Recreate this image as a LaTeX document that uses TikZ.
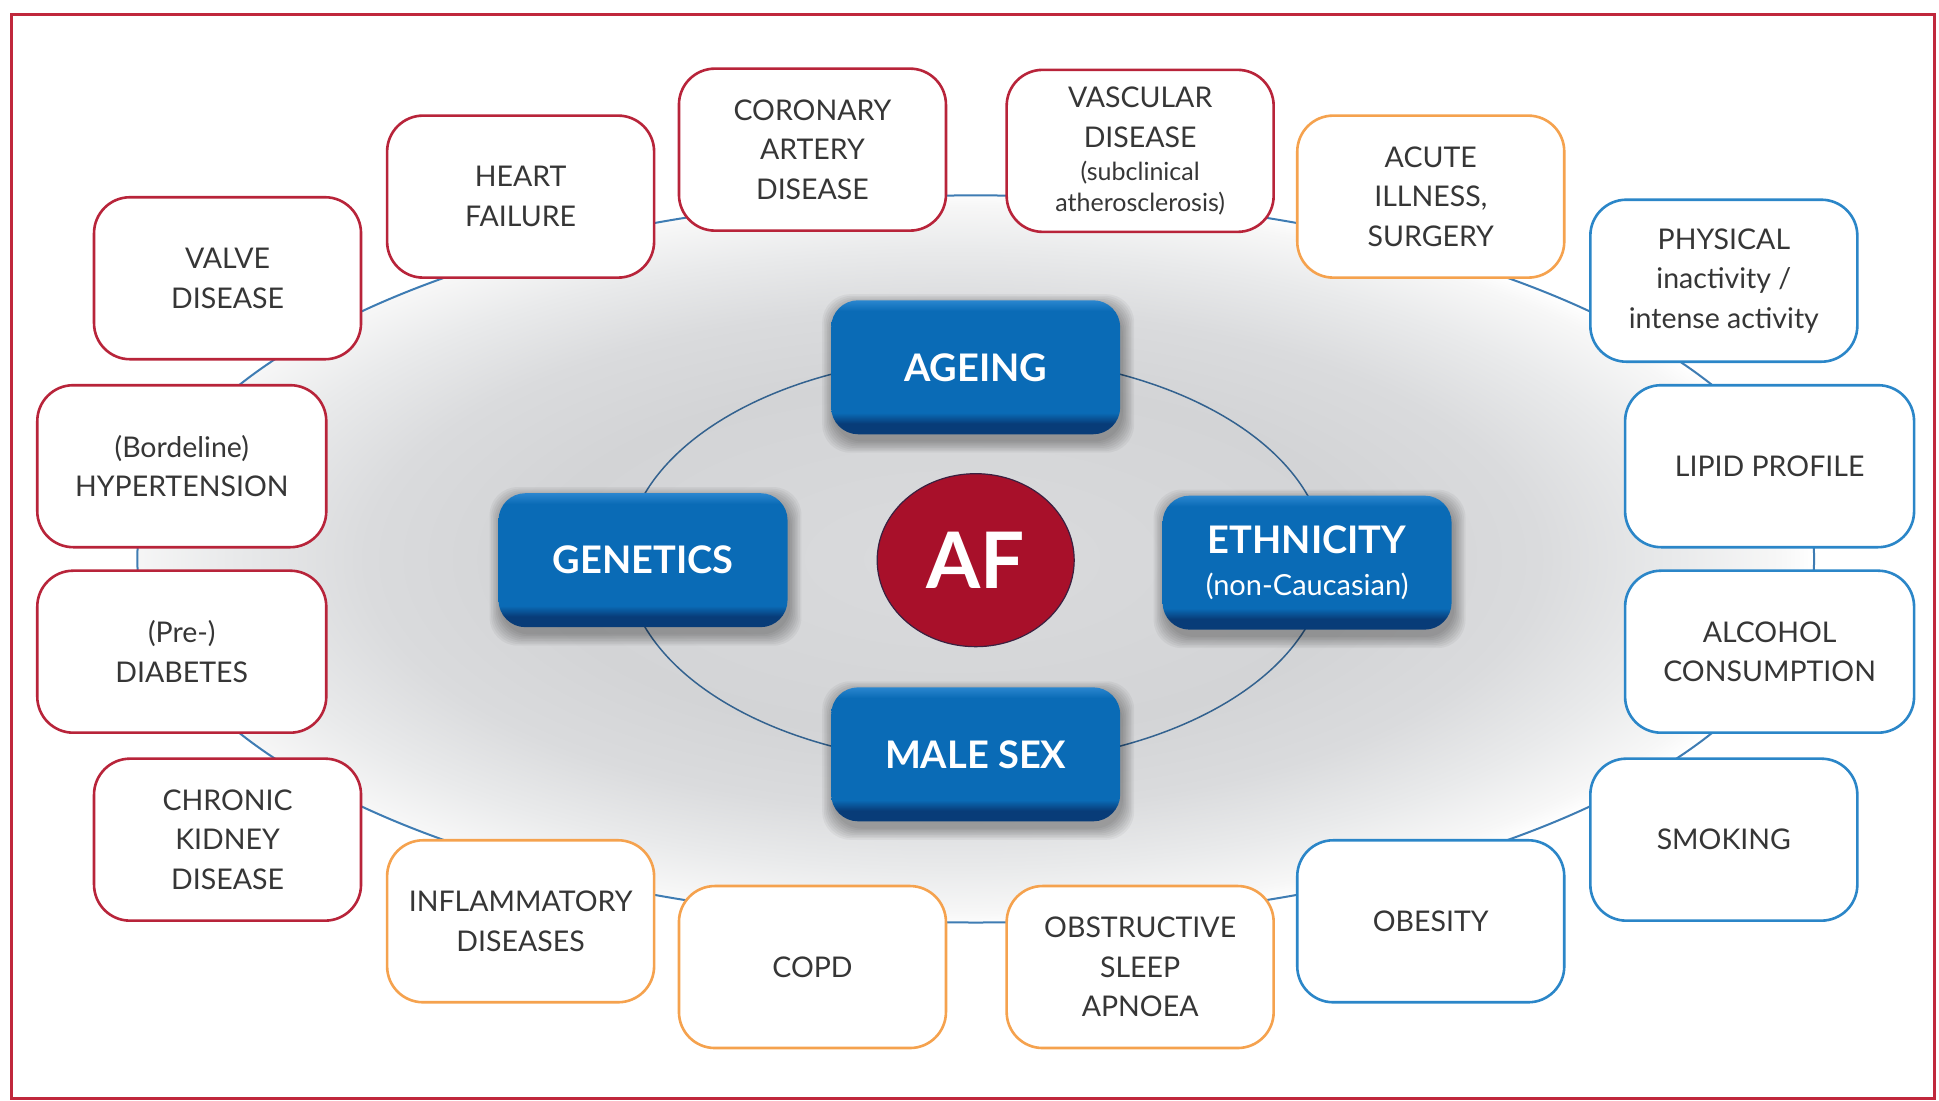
\documentclass[tikz,border=0pt]{standalone}
\usepackage{fontspec}
\setmainfont{Lato}
\usetikzlibrary{shapes.geometric}
\definecolor{bred}{HTML}{B8243A}
\definecolor{bor}{HTML}{F5A24E}
\definecolor{bbl}{HTML}{2B86C8}
\definecolor{ringblue}{HTML}{3E7CB3}
\definecolor{innerblue}{HTML}{33628F}
\definecolor{framered}{HTML}{C0283C}
\definecolor{txtgray}{HTML}{363636}
\definecolor{dblue}{HTML}{083C78}
\definecolor{mblue}{HTML}{0A6BB6}
\definecolor{lblue}{HTML}{2A86CF}
\definecolor{afred}{HTML}{A8102A}
\definecolor{afedge}{HTML}{3A2040}
\definecolor{gA}{HTML}{DADBDD}
\definecolor{gB}{HTML}{D3D4D6}
\definecolor{gC}{HTML}{DADBDD}
\definecolor{gD}{HTML}{E9EAEB}
\definecolor{gE}{HTML}{F7F7F7}
\pgfdeclareradialshading{ringshade}{\pgfpoint{0bp}{0bp}}{color(0bp)=(gA); color(12bp)=(gB); color(17bp)=(gC); color(21bp)=(gD); color(24bp)=(gE); color(25bp)=(white); color(50bp)=(white)}
\pgfdeclareverticalshading{bluebox}{100bp}{color(0bp)=(dblue); color(29bp)=(dblue); color(33bp)=(mblue); color(71bp)=(mblue); color(75bp)=(lblue); color(100bp)=(lblue)}
\newcommand\smalltxt{\fontsize{25}{31}\selectfont}
\newcommand\subtxt{\fontsize{29}{42}\selectfont\mdseries}
\begin{document}
\begin{tikzpicture}[x=1.2366pt,y=-1.2366pt,
  riskbox/.style={draw, line width=2.6pt, fill=white, rounded corners=36pt,
    minimum width=267pt, minimum height=162pt, align=center, text=txtgray,
    font=\fontsize{28.5}{39.5}\selectfont, inner sep=2pt},
  redbox/.style={riskbox, draw=bred},
  orbox/.style={riskbox, draw=bor},
  blbox/.style={riskbox, draw=bbl},
  widebox/.style={minimum width=289pt},
  corebox/.style={shading=bluebox, rounded corners=27pt, minimum width=289pt,
    minimum height=134pt, text=white, align=center,
    font=\fontsize{38}{42}\selectfont\bfseries},
  softshadow/.style={fill=black, opacity=0.045, rounded corners=28pt},
  afnode/.style={ellipse, fill=afred, draw=afedge, line width=1.2pt,
    minimum width=197pt, minimum height=173pt, text=white,
    font=\fontsize{78}{80}\selectfont\bfseries, inner sep=0pt}]
\useasboundingbox (0,0) rectangle (1568,890);
\fill[white] (0,0) rectangle (1568,890);
% shaded field and rings
\begin{scope}
  \clip (789,452) ellipse [x radius=678, y radius=294];
  \shade[shading=ringshade] (770,452) ellipse [x radius=697, y radius=298];
\end{scope}
\draw[ringblue, line width=2pt] (789,452) ellipse [x radius=678, y radius=294];
\draw[innerblue, line width=1.5pt] (789,453) ellipse [x radius=283, y radius=165];
% soft shadows of the core boxes
\foreach \cx/\cy in {789/297,520/453,1057/455,789/610}{
  \foreach \k in {0,...,7}{
    \fill[softshadow] ({\cx-115-\k*1.3},{\cy-50-\k*1.3}) rectangle ({\cx+119+\k*1.3},{\cy+60+\k*1.3});
  }
}
% outer risk factor boxes
\node[redbox] (hf) at (421,159) {HEART\\FAILURE};
\node[redbox] (cad) at (657,121) {CORONARY\\ARTERY\\DISEASE};
\node[redbox] (vd) at (922,122) {VASCULAR\\DISEASE\\[-6pt]\smalltxt (subclinical\\[-9pt]\smalltxt atherosclerosis)};
\node[orbox] (acute) at (1157,159) {ACUTE\\ILLNESS,\\SURGERY};
\node[redbox] (valve) at (184,225) {VALVE\\DISEASE};
\node[blbox] (phys) at (1394,227) {PHYSICAL\\inactivity /\\intense activity};
\node[redbox, widebox] (hyp) at (147,377) {(Bordeline)\\HYPERTENSION};
\node[blbox, widebox] (lip) at (1431,377) {LIPID PROFILE};
\node[redbox, widebox] (dia) at (147,527) {(Pre-)\\DIABETES};
\node[blbox, widebox] (alc) at (1431,527) {ALCOHOL\\CONSUMPTION};
\node[redbox] (ckd) at (184,679) {CHRONIC\\KIDNEY\\DISEASE};
\node[blbox] (smk) at (1394,679) {SMOKING};
\node[orbox] (inf) at (421,745) {INFLAMMATORY\\DISEASES};
\node[blbox] (obe) at (1157,745) {OBESITY};
\node[orbox] (copd) at (657,782) {COPD};
\node[orbox] (osa) at (922,782) {OBSTRUCTIVE\\SLEEP\\APNOEA};
% core factors
\node[corebox] (age) at (789,297) {AGEING};
\node[corebox] (gen) at (520,453) {GENETICS};
\node[corebox] (eth) at (1057,455) {ETHNICITY\\\subtxt (non-Caucasian)};
\node[corebox] (male) at (789,610) {MALE SEX};
\node[afnode] (af) at (789,453) {AF};
% frame
\draw[framered, line width=3pt] (9,11.5) rectangle (1564,888);
\end{tikzpicture}
\end{document}
